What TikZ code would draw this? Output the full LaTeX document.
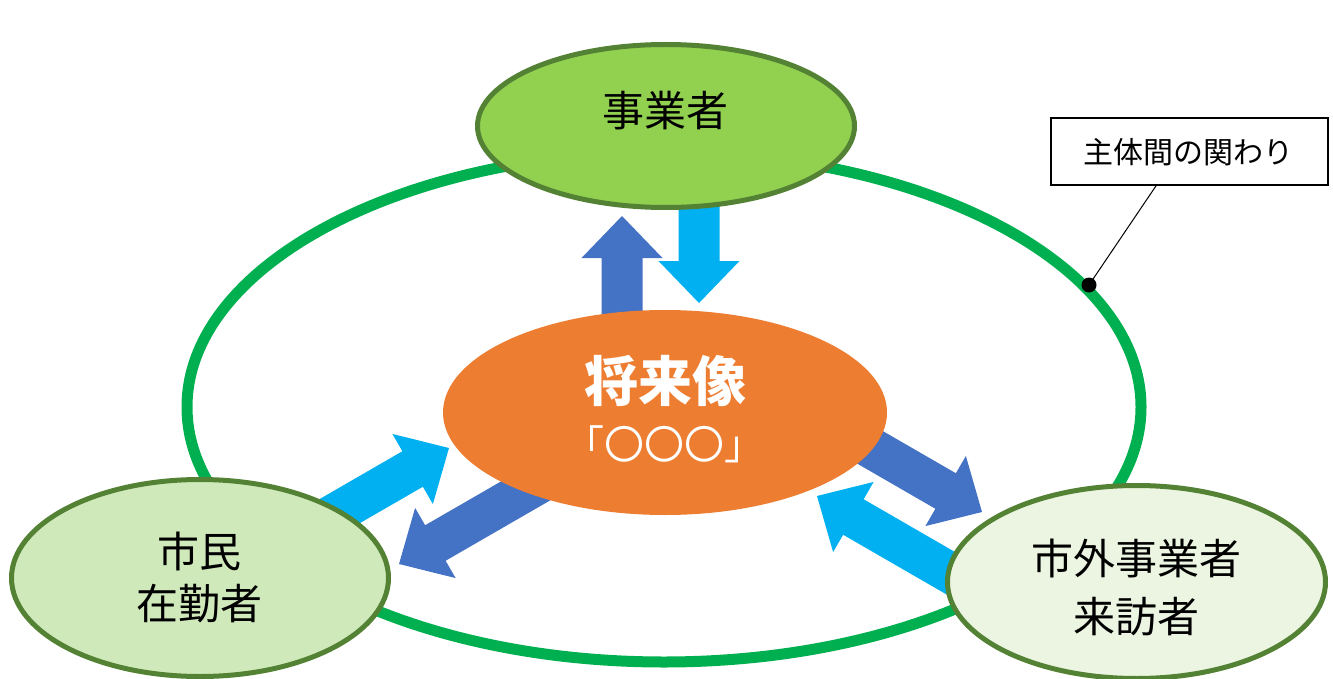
\documentclass[tikz,border=0pt]{standalone}
\usepackage{fontspec}
\newfontfamily\jp{Noto Sans CJK JP}
\usetikzlibrary{shapes.geometric,calc}
\definecolor{ringgreen}{HTML}{00B050}
\definecolor{bordergreen}{HTML}{548235}
\definecolor{topgreen}{HTML}{92D050}
\definecolor{citizenfill}{HTML}{D0E9BA}
\definecolor{visitorfill}{HTML}{EBF5E1}
\definecolor{vorange}{HTML}{ED7D31}
\definecolor{arrowdark}{HTML}{4472C4}
\definecolor{arrowlight}{HTML}{00B0F0}
\newcommand\blockarrow[4]{%
  \begin{scope}[shift={#2},rotate=#3]
    \fill[#1] (0,0) -- (-42,40.5) -- (-42,20.5) -- (-#4,20.5) -- (-#4,-20.5) -- (-42,-20.5) -- (-42,-40.5) -- cycle;
  \end{scope}}
\begin{document}
\begin{tikzpicture}[x=1pt,y=-1pt,
  oval/.style={ellipse, inner sep=0pt, line width=5pt, draw=bordergreen},
  txt/.style={font=\jp\fontsize{42}{50}\selectfont, inner sep=0pt, anchor=base}]
\useasboundingbox (0,0) rectangle (1333,679);
% ring of relations
\node[ellipse, draw=ringgreen, line width=11pt, inner sep=0pt,
      minimum width=954pt, minimum height=510pt] (ring) at (664,407) {};
% arrows
\blockarrow{arrowdark}{(622,216)}{90}{104}
\blockarrow{arrowlight}{(699,303)}{-90}{108}
\blockarrow{arrowlight}{(449,448)}{30}{160}
\blockarrow{arrowdark}{(399,564)}{210}{170}
\blockarrow{arrowdark}{(982,512)}{-30}{170}
\blockarrow{arrowlight}{(817,496)}{150}{180}
% ellipses
\node[oval, fill=topgreen, minimum width=377pt, minimum height=163pt] (biz) at (666,126) {};
\node[ellipse, fill=vorange, inner sep=0pt, minimum width=444pt, minimum height=205pt] (vision) at (665,412.5) {};
\node[oval, fill=citizenfill, minimum width=377pt, minimum height=197pt] (citizen) at (200,578) {};
\node[oval, fill=visitorfill, minimum width=378pt, minimum height=193pt] (visitor) at (1136.5,582) {};
% texts
\node[txt] (t-biz) at (665,127) {事業者};
\node[txt] (t-cit1) at (199,567) {市民};
\node[txt] (t-cit2) at (199.5,619) {在勤者};
\node[txt] (t-vis1) at (1136.5,574) {市外事業者};
\node[txt] (t-vis2) at (1136,632) {来訪者};
\node[txt, text=white, font=\jp\bfseries\fontsize{54}{60}\selectfont] (t-vis) at (665,401.5) {将来像};
\node[txt, text=white, font=\jp\fontsize{40}{44}\selectfont] (t-ooo) at (664.5,459) {「〇〇〇」};
% callout
\node[draw, line width=1.5pt, inner sep=0pt, minimum width=277pt, minimum height=67pt] (tag) at (1189.5,151.5) {};
\node[txt, font=\jp\fontsize{30}{36}\selectfont] (t-tag) at (1188.5,163.4) {主体間の関わり};
\coordinate (dot) at (1089,285);
\draw[line width=1pt] ($(tag.south west)!0.38!(tag.south east)$) -- (dot);
\fill (dot) circle[radius=7.5pt];
\end{tikzpicture}
\end{document}
